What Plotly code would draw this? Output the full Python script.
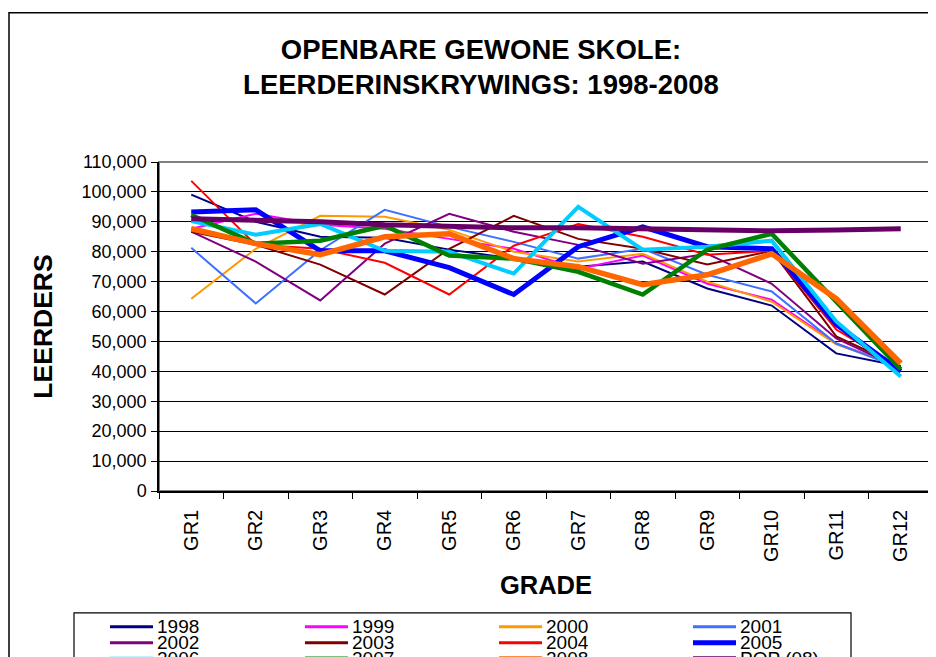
import plotly.graph_objects as go

grades = ["GR1", "GR2", "GR3", "GR4", "GR5", "GR6", "GR7", "GR8", "GR9", "GR10", "GR11", "GR12"]

y1998 = [99100, 90000, 85000, 84700, 80700, 77700, 75000, 76700, 67700, 62000, 46000, 41700]
y1999 = [87700, 92700, 89000, 87700, 84300, 81000, 74300, 78700, 69300, 64000, 49300, 41500]
y2000 = [64300, 81000, 92000, 91700, 87300, 80000, 76700, 79300, 70000, 63300, 49000, 41500]
y2001 = [81300, 62700, 80500, 94000, 88300, 83300, 77700, 81000, 72300, 66700, 49300, 41000]
y2002 = [86700, 76700, 63700, 82700, 92700, 86700, 82300, 76000, 79300, 69300, 51000, 41000]
y2003 = [86700, 82300, 75700, 65700, 81000, 92000, 84300, 81000, 75700, 80300, 51700, 41700]
y2004 = [103700, 82300, 81000, 76300, 65700, 82000, 89300, 85000, 79000, 80300, 54000, 41000]
y2005 = [93300, 94000, 80300, 80300, 74700, 65700, 81700, 88300, 81700, 81000, 55700, 40000]
y2006 = [90300, 85700, 89300, 80300, 80000, 72700, 95000, 80700, 81700, 83700, 56700, 38300]
y2007 = [92300, 82700, 83700, 88700, 78700, 77700, 73300, 65700, 80700, 86000, 63300, 40700]
y2008 = [87700, 82700, 79000, 85000, 86000, 77700, 75000, 69000, 72300, 79300, 64300, 42700]
pop08 = [91000, 90500, 90000, 89000, 88300, 88000, 88000, 87700, 87300, 87000, 87300, 87700]

series_names = ["1998", "1999", "2000", "2001", "2002", "2003", "2004", "2005",
                "2006", "2007", "2008", "POP (08)"]
series_values = [y1998, y1999, y2000, y2001, y2002, y2003, y2004, y2005,
                 y2006, y2007, y2008, pop08]
colors = ["#000080", "#FF00FF", "#FF9900", "#3F6FFF", "#800080", "#800000",
          "#FF0000", "#0000FF", "#00CCFF", "#008000", "#FF6600", "#660066"]
widths = [2, 2, 2, 2, 2, 2, 2, 5, 4, 4.5, 5.5, 5]

FONT = "Liberation Sans, Arial, sans-serif"

fig = go.Figure()
for name, vals, c, w in zip(series_names, series_values, colors, widths):
    fig.add_trace(go.Scatter(x=grades, y=vals, name=name, mode="lines",
                             line=dict(color=c, width=w), showlegend=False))

# the page adds an 8px body offset; work in screen pixels and subtract it
OFF = 8
FW, FH = 936 - OFF, 657 - OFF
L, R, T, B = 159 - OFF, 933 - OFF, 161.5 - OFF, 491 - OFF
W, H = R - L, B - T


def px(x):
    return (x - OFF - L) / W


def py(y):
    return (B - (y - OFF)) / H


shapes = []
annotations = []

# outer chart border
shapes.append(dict(type="rect", xref="paper", yref="paper",
                   x0=px(9), x1=px(960), y0=py(12), y1=py(720),
                   line=dict(color="black", width=1.5), layer="below"))
# plot area border (gray)
shapes.append(dict(type="rect", xref="paper", yref="paper",
                   x0=0, x1=1, y0=0, y1=1,
                   line=dict(color="#808080", width=2), layer="below"))

# legend box
shapes.append(dict(type="rect", xref="paper", yref="paper",
                   x0=px(74), x1=px(851), y0=py(613), y1=py(720),
                   line=dict(color="black", width=1.2), layer="above"))
col_x = [110, 305, 499, 693]
row_y = [627, 643, 659]
for i, (name, c, w) in enumerate(zip(series_names, colors, widths)):
    r, k = divmod(i, 4)
    x0 = col_x[k]
    y0 = row_y[r]
    shapes.append(dict(type="line", xref="paper", yref="paper",
                       x0=px(x0), x1=px(x0 + 43), y0=py(y0), y1=py(y0),
                       line=dict(color=c, width=min(w, 5) if w > 2 else 3)))
    annotations.append(dict(text=name, xref="paper", yref="paper",
                            x=px(x0 + 45), y=py(y0), xanchor="left", yanchor="middle",
                            showarrow=False, font=dict(family=FONT, size=19, color="black")))

fig.update_layout(
    width=FW, height=FH,
    margin=dict(l=L, r=FW - R, t=T, b=FH - B, autoexpand=False),
    paper_bgcolor="white", plot_bgcolor="white",
    title=dict(text="OPENBARE GEWONE SKOLE:<br>LEERDERINSKRYWINGS: 1998-2008",
               x=(481 - OFF) / FW, xanchor="center", xref="container",
               y=1 - (58.5 - OFF) / FH, yanchor="middle", yref="container",
               font=dict(family=FONT, size=27.5, color="black", weight="bold")),
    font=dict(family=FONT, color="black"),
    shapes=shapes, annotations=annotations,
    showlegend=False,
)

fig.update_xaxes(type="category", range=[-0.5, 11.5], tickson="boundaries",
                 ticks="outside", ticklen=6, tickcolor="black", tickwidth=1,
                 showline=True, linecolor="black", linewidth=1.5,
                 showgrid=False, tickangle=-90, ticklabelstandoff=9,
                 tickfont=dict(family=FONT, size=20, color="black"),
                 title=dict(text="GRADE", standoff=15,
                            font=dict(family=FONT, size=25.5, color="black", weight="bold")))
fig.update_yaxes(range=[0, 110000], dtick=10000, tickformat=",",
                 ticks="outside", ticklen=6, tickcolor="black", tickwidth=1,
                 showline=True, linecolor="black", linewidth=1.5,
                 showgrid=True, gridcolor="black", gridwidth=1, zeroline=False,
                 ticklabelstandoff=1,
                 tickfont=dict(family=FONT, size=18, color="black"),
                 title=dict(text="LEERDERS", standoff=21,
                            font=dict(family=FONT, size=26.5, color="black", weight="bold")))

fig.write_html("out.html")
